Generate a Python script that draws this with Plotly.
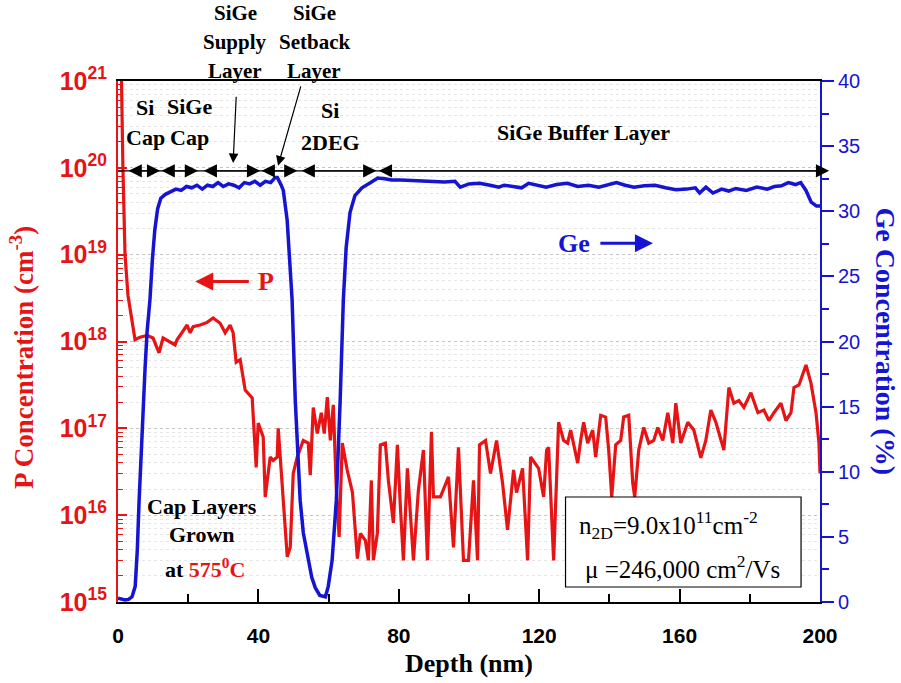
import plotly.graph_objects as go

# ---------------- data ----------------
# P concentration profile (depth in nm, log10 of concentration in cm^-3)
p_depth = [0.0, 1.0, 1.4, 2.0, 2.85, 4.28, 4.85, 6.28, 8.27, 9.99, 11.70, 12.84, 14.84, 16.26,
           16.83, 18.26, 19.69, 20.54, 21.40, 23.40, 25.39, 27.10, 29.10, 30.53, 31.95, 32.81,
           33.67, 34.81, 36.23, 38.23, 38.80, 39.37, 39.94, 41.37, 41.94, 43.37, 44.22, 45.36,
           45.65, 46.79, 48.22, 49.07, 49.93, 51.07, 52.78, 54.21, 54.78, 55.63, 56.78, 57.92,
           58.77, 59.63, 60.49, 61.34, 62.2, 63.0, 63.9, 65.3, 66.8, 68.2, 69.05, 70.47, 71.33,
           72.18, 72.75, 73.89, 74.75, 76.18, 77.03, 78.46, 79.60, 80.46, 81.31, 82.45, 84.17,
           85.59, 87.02, 88.16, 89.30, 89.87, 91.87, 94.15, 95.58, 97.00, 98.43, 99.86, 101.28,
           102.43, 103.00, 104.71, 106.13, 107.85, 109.56, 110.98, 112.70, 113.55, 115.26,
           116.69, 117.55, 119.83, 121.26, 122.11, 122.68, 124.11, 125.53, 126.96, 128.10,
           128.96, 130.96, 131.81, 132.67, 133.81, 135.24, 136.09, 137.52, 138.94, 139.80,
           140.66, 141.80, 143.22, 144.08, 145.51, 146.65, 147.22, 148.36, 149.79, 151.21,
           152.64, 153.78, 155.21, 156.63, 158.06, 158.92, 160.34, 162.34, 164.05, 166.05,
           167.47, 168.90, 170.33, 172.61, 174.04, 175.46, 176.89, 178.32, 180.31, 182.31,
           184.02, 185.45, 186.88, 188.87, 190.30, 191.73, 192.58, 194.01, 196.01, 197.43,
           198.86, 199.71, 200.0]
p_log10 = [21.3, 21.0, 20.0, 19.0, 18.53, 18.15, 18.02, 18.05, 18.07, 18.04, 17.87, 18.04, 17.99, 17.96,
           18.02, 18.10, 18.19, 18.10, 18.17, 18.19, 18.22, 18.27, 18.21, 18.10, 18.19, 18.10,
           17.76, 17.79, 17.44, 17.35, 16.94, 16.55, 17.06, 16.90, 16.21, 16.67, 16.63, 16.67,
           17.00, 16.32, 15.52, 15.63, 16.48, 16.67, 16.86, 16.83, 16.46, 17.24, 16.94, 17.18,
           16.94, 17.36, 16.86, 17.27, 16.30, 15.75, 16.83, 16.52, 16.26, 15.50, 15.79, 15.71, 15.48,
           16.40, 15.48, 15.79, 16.81, 16.83, 16.40, 15.91, 16.81, 16.09, 15.48, 16.54, 15.48,
           16.29, 16.75, 15.48, 16.96, 16.21, 16.21, 16.44, 15.63, 16.78, 15.48, 15.48, 16.40,
           15.48, 16.81, 16.86, 16.48, 16.86, 16.37, 15.83, 16.52, 16.26, 16.54,
           15.48, 16.67, 16.54, 16.21, 16.75, 16.78, 15.48, 17.07, 16.86, 16.83,
           16.98, 16.60, 16.86, 17.07, 16.83, 16.98, 16.67, 17.15, 17.13, 16.75,
           16.21, 16.81, 16.86, 17.13, 17.15, 16.37, 16.21, 16.75, 17.01, 16.83,
           16.86, 17.01, 16.86, 17.18, 16.83, 17.29, 16.83, 17.07, 16.98, 16.66,
           16.86, 17.21, 17.07, 16.75, 17.47, 17.29, 17.32, 17.24, 17.41, 17.18,
           17.21, 17.09, 17.18, 17.29, 17.09, 17.18, 17.47, 17.50, 17.73, 17.52,
           17.18, 16.83, 16.48]
p_conc = [10.0 ** v for v in p_log10]

# Ge concentration profile (depth in nm, %)
ge_depth = [0, 1, 2, 3, 4, 4.9, 5.5, 6.0, 6.6, 7.1, 7.7, 8.3, 9.1, 9.8, 10.5, 11.3, 12.2, 13.5,
            15, 16.5, 18, 19.5, 21, 22.5, 24, 25.5, 27, 28.5, 30, 31.5, 33, 34.5, 36, 37.5, 39,
            40.5, 42, 43.5, 44.8, 45.4, 46.5, 47.1, 48.2, 49.1, 49.6, 50.5, 51.9, 52.8, 54.2,
            55.2, 56.2, 57.5, 59.1, 59.9, 61.0, 62.2, 63.3, 64.2, 65.0, 66.1, 67.5, 69.5, 72,
            74, 76, 78, 80.5, 85, 90, 93, 96, 97.5, 100, 103, 106, 108.5, 110, 113, 115, 117,
            120, 122, 125, 128, 131, 134, 137, 140, 142, 144.5, 147, 150, 153, 156, 159, 162,
            164.5, 165.7, 167.5, 169.5, 172, 174, 176, 179, 182, 185, 187, 189, 191, 193, 194.5,
            196, 197.5, 199, 200]
ge_pct = [0.3, 0.2, 0.15, 0.2, 0.4, 1.2, 4.0, 7.7, 11.5, 15.3, 17.9, 20.8, 23.2, 26.3, 28.6, 30.2, 31.0, 31.3,
          31.5, 31.7, 31.6, 31.9, 31.8, 32.0, 31.7, 32.0, 31.9, 32.2, 31.9, 32.1, 32.0, 31.8, 32.2, 32.1, 32.3,
          32.0, 32.3, 32.2, 32.6, 32.6, 32.0, 31.6, 29.3, 25.9, 23.2, 15.5, 7.8, 5.3, 3.2,
          1.9, 1.1, 0.5, 0.4, 1.2, 3.2, 7.8, 15.5, 23.2, 27.2, 29.9, 31.2, 31.8, 32.2,
          32.55, 32.5, 32.4, 32.4, 32.35, 32.3, 32.25, 32.3, 31.85, 32.1, 32.15, 32.0, 31.85, 32.0, 31.9, 31.8, 32.15,
          31.95, 31.85, 32.05, 32.15, 31.9, 32.0, 31.85, 32.1, 32.2, 32.0, 31.85, 31.95, 32.0, 31.8, 31.65, 31.7,
          31.8, 31.4, 31.85, 31.4, 31.7, 31.55, 31.75, 31.6, 31.85, 31.7, 31.9, 31.95, 32.2, 32.05, 32.2,
          31.6, 30.7, 30.4, 30.4]

# layer extents (nm) marked by double arrows at the Ge level
layer_spans = [(2.6, 12.0), (12.0, 22.8), (24.0, 40.5), (40.5, 51.1), (51.9, 73.6), (73.9, 202.6)]
arrow_level = 33.1

p_ticks = [1e15, 1e16, 1e17, 1e18, 1e19, 1e20, 1e21]
p_ticktext = ["10<sup>15</sup>", "10<sup>16</sup>", "10<sup>17</sup>", "10<sup>18</sup>",
              "10<sup>19</sup>", "10<sup>20</sup>", "10<sup>21</sup>"]
x_ticks = [0, 40, 80, 120, 160, 200]

RED = "#e61414"
BLUE = "#1414d2"
SERIF = "Liberation Serif"
SANS = "Liberation Sans"

fig = go.Figure()
fig.add_trace(go.Scatter(x=p_depth, y=p_conc, mode="lines", line=dict(color=RED, width=3.2),
                         yaxis="y", showlegend=False))
fig.add_trace(go.Scatter(x=ge_depth, y=ge_pct, mode="lines", line=dict(color=BLUE, width=3.5),
                         yaxis="y2", showlegend=False))

minor_vals = [k * 10.0 ** e for e in range(15, 21) for k in range(2, 10)]

fig.update_layout(
    width=901, height=683,
    margin=dict(l=118, r=81, t=81, b=81),
    paper_bgcolor="white", plot_bgcolor="white",
    xaxis=dict(range=[0, 200], tickmode="array", tickvals=x_ticks, ticks="inside", ticklen=13,
               tickwidth=1.5, tickcolor="black", showline=True, linecolor="black", linewidth=2,
               mirror=True, showgrid=False, zeroline=False,
               minor=dict(dtick=20, ticks="inside", ticklen=8, tickwidth=1.5, tickcolor="black"),
               tickfont=dict(family=SANS, size=21, color="black", weight="bold"),
               ticklabelstandoff=14),
    yaxis=dict(type="log", range=[15, 21], tickmode="array", tickvals=p_ticks, ticktext=p_ticktext,
               ticks="inside", ticklen=9, tickwidth=1.5, tickcolor=RED, showline=True,
               linecolor=RED, linewidth=2, showgrid=True, gridcolor="#c4c4c4", griddash="dot",
               gridwidth=1, zeroline=False,
               minor=dict(tickmode="array", tickvals=minor_vals, ticks="inside", ticklen=5,
                          tickwidth=1.2, tickcolor=RED, showgrid=True, gridcolor="#e6e6e6",
                          griddash="dot", gridwidth=1),
               tickfont=dict(family=SANS, size=25, color=RED, weight="bold"),
               ticklabelstandoff=4),
    yaxis2=dict(range=[0, 40], overlaying="y", side="right", dtick=5, ticks="outside", ticklen=12,
                tickwidth=1.5, tickcolor=BLUE, showline=True, linecolor=BLUE, linewidth=2,
                showgrid=False, zeroline=False,
                minor=dict(dtick=2.5, ticks="outside", ticklen=7, tickwidth=1.5, tickcolor=BLUE),
                tickfont=dict(family=SANS, size=20, color=BLUE)),
)

ann = []
# axis titles
ann.append(dict(text="Depth (nm)", xref="paper", yref="paper", x=0.5, y=-0.118, yanchor="middle",
                showarrow=False, font=dict(family=SERIF, size=26, color="black", weight="bold")))
ann.append(dict(text="P Concentration (cm<sup>-3</sup>)", xref="paper", yref="paper",
                x=-0.137, y=0.47, textangle=-90, showarrow=False, xanchor="center", yanchor="middle",
                font=dict(family=SERIF, size=27, color=RED, weight="bold")))
ann.append(dict(text="Ge Concentration (%)", xref="paper", yref="paper",
                x=1.094, y=0.50, textangle=90, showarrow=False, xanchor="center", yanchor="middle",
                font=dict(family=SERIF, size=28, color=BLUE, weight="bold")))

lab_font = dict(family=SERIF, size=22, color="black", weight="bold")
top_font = dict(family=SERIF, size=21, color="black", weight="bold")
# labels above the plot
for txt, yy in [("SiGe", 1.130), ("Supply", 1.075), ("Layer", 1.019)]:
    ann.append(dict(text=txt, x=33.4, xref="x", y=yy, yref="paper", yanchor="middle",
                    showarrow=False, font=top_font))
for txt, yy in [("SiGe", 1.130), ("Setback", 1.075), ("Layer", 1.019)]:
    ann.append(dict(text=txt, x=55.9, xref="x", y=yy, yref="paper", yanchor="middle",
                    showarrow=False, font=top_font))
# labels inside the plot
for txt, xx, yy in [("Si", 7.7, 38.0), ("Cap", 7.7, 35.7), ("SiGe", 20.4, 38.05), ("Cap", 20.4, 35.7),
                    ("Si", 60.5, 37.75), ("2DEG", 60.5, 35.3), ("SiGe Buffer Layer", 132.7, 36.05)]:
    ann.append(dict(text=txt, x=xx, xref="x", y=yy, yref="y2", yanchor="middle",
                    showarrow=False, font=lab_font))

# thin baseline under the arrows
fig.add_shape(type="line", x0=0, x1=200, y0=arrow_level, y1=arrow_level, xref="x", yref="y2",
              line=dict(color="black", width=1.2))
# double-headed layer arrows
for a, b in layer_spans:
    ann.append(dict(text="", x=b, y=arrow_level, xref="x", yref="y2", ax=a, ay=arrow_level,
                    axref="x", ayref="y2", showarrow=True, arrowhead=2, startarrowhead=2,
                    arrowside="end+start", arrowsize=2.2, startarrowsize=2.2, arrowwidth=1.2,
                    arrowcolor="black"))

# pointers from the labels down to the arrow line
ann.append(dict(text="", x=32.8, y=33.7, xref="x", yref="y2", ax=33.7, ay=38.9, axref="x", ayref="y2",
                showarrow=True, arrowhead=2, arrowsize=1.6, arrowwidth=1.2, arrowcolor="black"))
ann.append(dict(text="", x=45.6, y=33.5, xref="x", yref="y2", ax=52.2, ay=39.7, axref="x", ayref="y2",
                showarrow=True, arrowhead=2, arrowsize=1.6, arrowwidth=1.2, arrowcolor="black"))

# series labels with arrows
ann.append(dict(text="", x=22.0, y=24.6, xref="x", yref="y2", ax=37.7, ay=24.6, axref="x", ayref="y2",
                showarrow=True, arrowhead=2, arrowsize=1.2, arrowwidth=3, arrowcolor=RED))
ann.append(dict(text="P", x=42.2, y=24.6, xref="x", yref="y2", yanchor="middle", showarrow=False,
                font=dict(family=SERIF, size=26, color=RED, weight="bold")))
ann.append(dict(text="", x=152.4, y=27.55, xref="x", yref="y2", ax=137.0, ay=27.55, axref="x", ayref="y2",
                showarrow=True, arrowhead=2, arrowsize=1.2, arrowwidth=3, arrowcolor=BLUE))
ann.append(dict(text="Ge", x=129.8, y=27.55, xref="x", yref="y2", yanchor="middle", showarrow=False,
                font=dict(family=SERIF, size=26, color=BLUE, weight="bold")))

# growth note
cap_font = dict(family=SERIF, size=22, color="black", weight="bold")
ann.append(dict(text="Cap Layers", x=24.0, y=7.3, xref="x", yref="y2", yanchor="middle",
                showarrow=False, font=cap_font))
ann.append(dict(text="Grown", x=24.0, y=5.15, xref="x", yref="y2", yanchor="middle",
                showarrow=False, font=cap_font))
ann.append(dict(text="at <span style='color:" + RED + "'>575<sup>0</sup>C</span>", x=24.8, y=2.6,
                xref="x", yref="y2", yanchor="middle", showarrow=False, font=cap_font))

# inset box with transport values
fig.add_shape(type="rect", x0=127.5, x1=194.6, y0=1.15, y1=8.06, xref="x", yref="y2",
              line=dict(color="black", width=1.2), fillcolor="white", layer="above")
box_font = dict(family=SERIF, size=25, color="black")
ann.append(dict(text="n<sub>2D</sub>=9.0x10<sup>11</sup>cm<sup>-2</sup>", x=130.8, y=5.9, xref="x",
                yref="y2", xanchor="left", yanchor="middle", showarrow=False, font=box_font))
ann.append(dict(text="\u03bc =246,000 cm<sup>2</sup>/Vs", x=132.5, y=2.7, xref="x", yref="y2",
                xanchor="left", yanchor="middle", showarrow=False, font=box_font))

fig.update_layout(annotations=ann)
fig.write_html("out.html")
